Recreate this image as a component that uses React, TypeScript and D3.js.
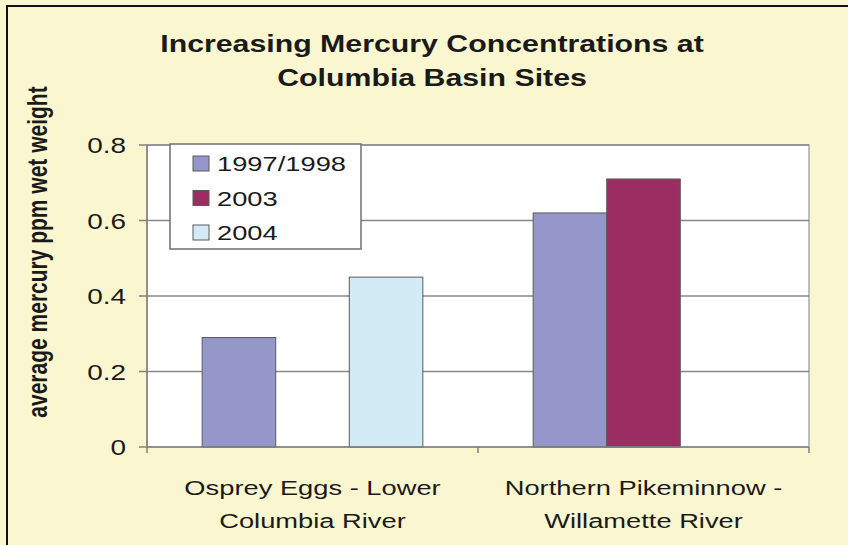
import React from 'react';
import * as d3 from 'd3';

const categories = ['osprey', 'pikeminnow'];
const categoryLines = [
  ['Osprey Eggs - Lower', 'Columbia River'],
  ['Northern Pikeminnow -', 'Willamette River'],
];
const seriesNames = ['1997/1998', '2003', '2004'];
const values1997 = [0.29, 0.62];
const values2003 = [null, 0.71];
const values2004 = [0.45, null];
const seriesColors = ['#9596C9', '#9B2D63', '#D3EBF4'];
const yTicks = [0, 0.2, 0.4, 0.6, 0.8];

const title = ['Increasing Mercury Concentrations at', 'Columbia Basin Sites'];
const yLabel = 'average mercury ppm wet weight';

// the picture is stretched sideways, text gets the same stretch
const SX = 1.3;
const FONT = '"Liberation Sans", Arial, sans-serif';

const width = 848;
const height = 545;
const plot = { left: 147, right: 809, top: 145, bottom: 447 };

const Txt: React.FC<{
  x: number; y: number; size: number; bold?: boolean; sx?: number;
  anchor?: string; rotate?: boolean; children: React.ReactNode;
}> = ({ x, y, size, bold, sx = SX, anchor = 'middle', rotate, children }) => (
  <text
    transform={`translate(${x},${y}) scale(${sx},1)${rotate ? ' rotate(-90)' : ''}`}
    fontFamily={FONT}
    fontSize={size}
    fontWeight={bold ? 'bold' : 'normal'}
    textAnchor={anchor}
    fill="#1a1a1a"
  >
    {children}
  </text>
);

export default function App() {
  const series = [values1997, values2003, values2004];

  const x0 = d3.scaleBand<string>()
    .domain(categories)
    .range([plot.left, plot.right])
    .padding(0);

  const x1 = d3.scaleBand<string>()
    .domain(seriesNames)
    .range([0, x0.bandwidth()])
    .paddingInner(0)
    .paddingOuter(0.75);

  const y = d3.scaleLinear()
    .domain([0, 0.8])
    .range([plot.bottom, plot.top]);

  const xBounds = [...categories.map(c => x0(c)!), plot.right];

  return (
    <svg width={width} height={height} viewBox={`0 0 ${width} ${height}`}
      style={{ position: 'absolute', left: 0, top: 0, display: 'block' }}>
      <rect x={0} y={0} width={width} height={height} fill="#FAF7D0" />
      {/* frame (only top and left survive the crop) */}
      <line x1={6} x2={width} y1={6} y2={6} stroke="#111" strokeWidth={2} />
      <line x1={7} x2={7} y1={6} y2={height} stroke="#111" strokeWidth={2} />

      {title.map((t, i) => (
        <Txt key={t} x={432} y={52 + i * 34} size={23.3} bold>{t}</Txt>
      ))}

      <Txt x={47} y={252} size={21} sx={1.3} bold rotate>{yLabel}</Txt>

      {/* plot area */}
      <rect x={plot.left} y={plot.top} width={plot.right - plot.left}
        height={plot.bottom - plot.top} fill="#fff" stroke="#A8A8A8" strokeWidth={1.5} />

      {yTicks.filter(t => t > 0).map(t => (
        <line key={t} x1={plot.left} x2={plot.right} y1={y(t)} y2={y(t)}
          stroke="#888" strokeWidth={1.5} />
      ))}

      {categories.map((c, ci) => (
        <g key={c} transform={`translate(${x0(c)},0)`}>
          {seriesNames.map((s, si) => {
            const v = series[si][ci];
            if (v == null) return null;
            return (
              <rect key={s} x={x1(s)} y={y(v)} width={x1.bandwidth()}
                height={y(0) - y(v)} fill={seriesColors[si]}
                stroke="#5a5a5a" strokeWidth={1} />
            );
          })}
        </g>
      ))}

      {/* axes */}
      <line x1={plot.left} x2={plot.left} y1={plot.top} y2={plot.bottom}
        stroke="#808080" strokeWidth={1.5} />
      <line x1={plot.left} x2={plot.right} y1={plot.bottom} y2={plot.bottom}
        stroke="#808080" strokeWidth={1.5} />
      {yTicks.map(t => (
        <g key={t}>
          <line x1={plot.left - 8} x2={plot.left} y1={y(t)} y2={y(t)}
            stroke="#808080" strokeWidth={1.5} />
          <Txt x={126} y={y(t) + 8} size={21.5} anchor="end">{t === 0 ? '0' : t.toFixed(1)}</Txt>
        </g>
      ))}
      {xBounds.map((b, i) => (
        <line key={i} x1={b} x2={b} y1={plot.bottom} y2={plot.bottom + 6}
          stroke="#808080" strokeWidth={1.5} />
      ))}
      {categories.map((c, ci) => (
        <g key={c}>
          {categoryLines[ci].map((l, li) => (
            <Txt key={l} x={x0(c)! + x0.bandwidth() / 2} y={495 + li * 33} size={21}>{l}</Txt>
          ))}
        </g>
      ))}

      {/* legend */}
      <rect x={170} y={144} width={191} height={105} fill="#fff" stroke="#707070" strokeWidth={1.5} />
      {seriesNames.map((s, i) => (
        <g key={s} transform={`translate(0,${i * 34.5})`}>
          <rect x={193} y={156} width={16} height={15} fill={seriesColors[i]}
            stroke="#5a5a5a" strokeWidth={1} />
          <Txt x={217} y={171} size={21} anchor="start">{s}</Txt>
        </g>
      ))}
    </svg>
  );
}
